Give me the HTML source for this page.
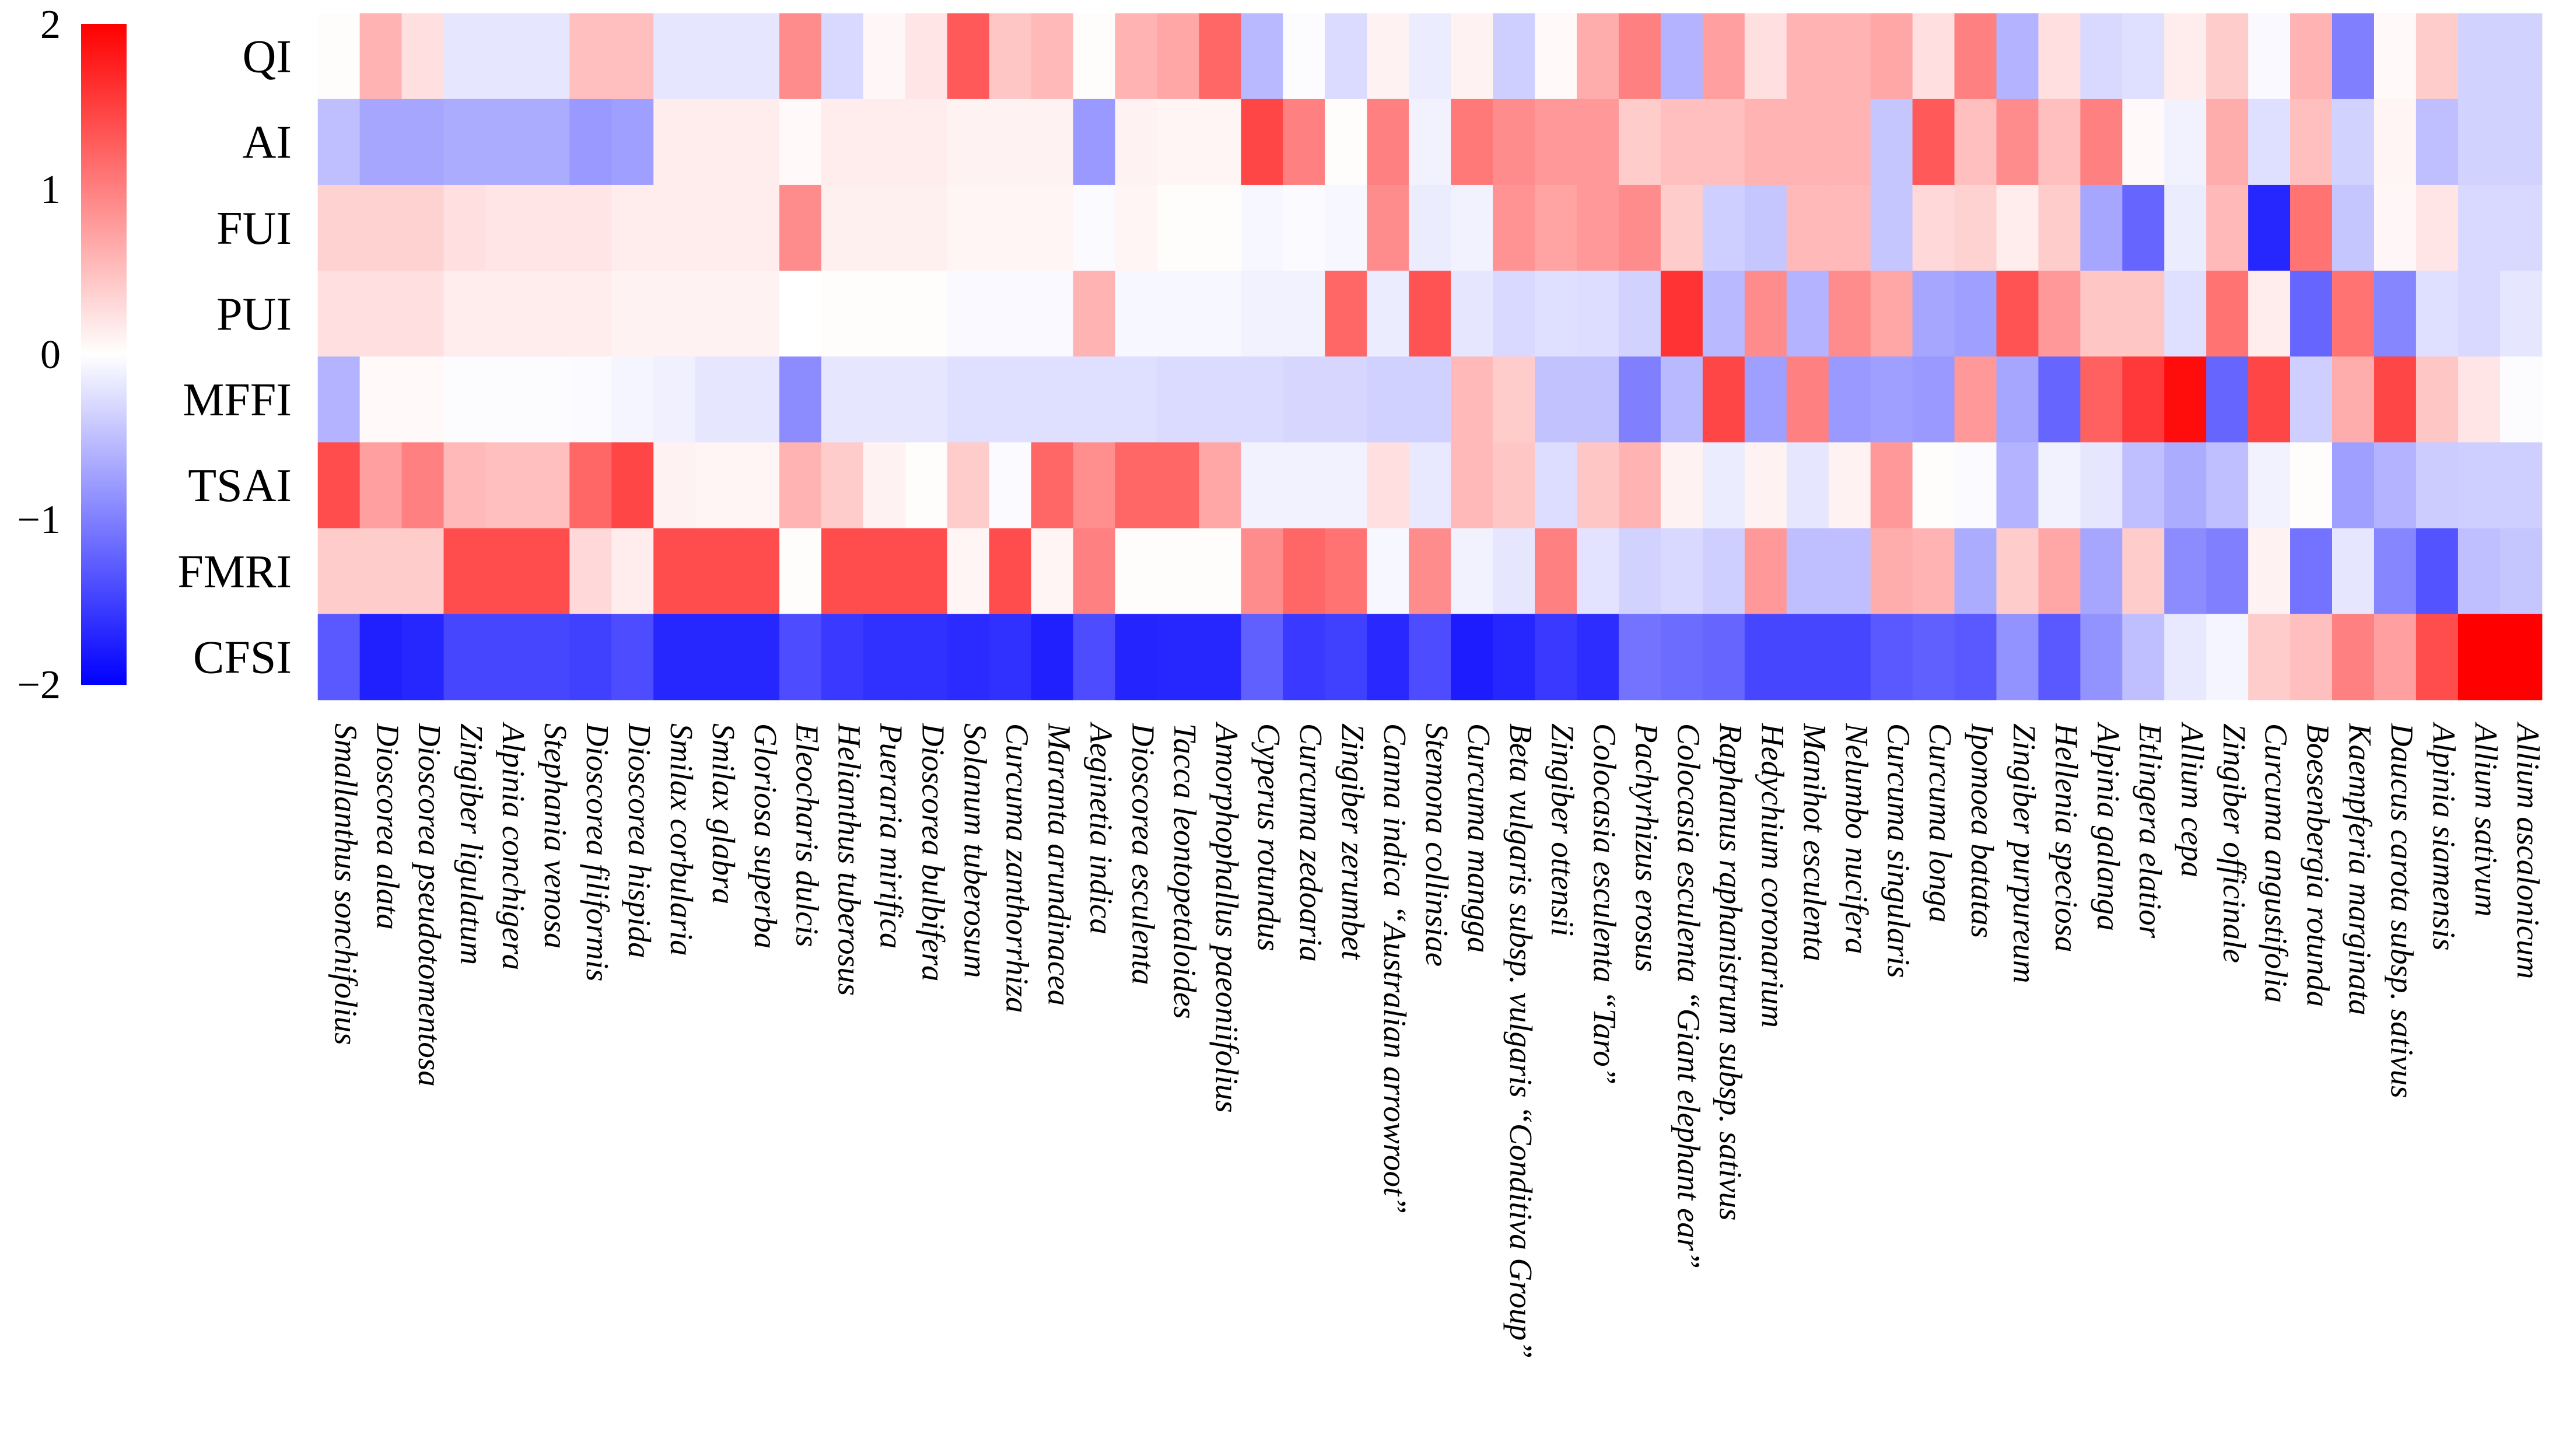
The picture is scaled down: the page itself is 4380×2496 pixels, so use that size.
<!DOCTYPE html>
<html><head><meta charset="utf-8"><style>html,body{margin:0;padding:0;background:#fff}svg{display:block}</style></head>
<body>
<svg id="chart" xmlns="http://www.w3.org/2000/svg" width="4380" height="2496" viewBox="0 0 4380 2496">
<defs>
<linearGradient id="cb" x1="0" y1="1" x2="0" y2="0">
<stop offset="0" stop-color="#0000ff"/><stop offset="0.5" stop-color="#ffffff"/><stop offset="1" stop-color="#ff0000"/>
</linearGradient>
</defs>
<g id="cells"></g>
<g id="rowlabels"></g>
<g id="collabels"></g>
<rect x="139" y="41" width="78" height="1133" fill="url(#cb)"/>
<g id="cbticks"></g>
</svg>
<script>
const rows = ["QI","AI","FUI","PUI","MFFI","TSAI","FMRI","CFSI"];
const species = ["Smallanthus sonchifolius","Dioscorea alata","Dioscorea pseudotomentosa","Zingiber ligulatum","Alpinia conchigera","Stephania venosa","Dioscorea filiformis","Dioscorea hispida","Smilax corbularia","Smilax glabra","Gloriosa superba","Eleocharis dulcis","Helianthus tuberosus","Pueraria mirifica","Dioscorea bulbifera","Solanum tuberosum","Curcuma zanthorrhiza","Maranta arundinacea","Aeginetia indica","Dioscorea esculenta","Tacca leontopetaloides","Amorphophallus paeoniifolius","Cyperus rotundus","Curcuma zedoaria","Zingiber zerumbet","Canna indica \u201cAustralian arrowroot\u201d","Stemona collinsiae","Curcuma mangga","Beta vulgaris subsp. vulgaris \u201cConditiva Group\u201d","Zingiber ottensii","Colocasia esculenta \u201cTaro\u201d","Pachyrhizus erosus","Colocasia esculenta \u201cGiant elephant ear\u201d","Raphanus raphanistrum subsp. sativus","Hedychium coronarium","Manihot esculenta","Nelumbo nucifera","Curcuma singularis","Curcuma longa","Ipomoea batatas","Zingiber purpureum","Hellenia speciosa","Alpinia galanga","Etlingera elatior","Allium cepa","Zingiber officinale","Curcuma angustifolia","Boesenbergia rotunda","Kaempferia marginata","Daucus carota subsp. sativus","Alpinia siamensis","Allium sativum","Allium ascalonicum"];
const valQI = [0.02,0.6,0.25,-0.2,-0.2,-0.2,0.5,0.5,-0.2,-0.2,-0.2,0.9,-0.3,0.06,0.2,1.3,0.45,0.55,0.02,0.6,0.7,1.2,-0.55,-0.02,-0.28,0.1,-0.15,0.1,-0.38,0.05,0.65,1.0,-0.6,0.75,0.25,0.6,0.6,0.7,0.25,1.0,-0.6,0.25,-0.3,-0.25,0.15,0.4,-0.05,0.6,-1.0,0.05,0.4,-0.35,-0.35];
const valAI = [-0.5,-0.7,-0.7,-0.65,-0.65,-0.65,-0.8,-0.75,0.15,0.15,0.15,0.05,0.15,0.15,0.15,0.1,0.1,0.1,-0.8,0.1,0.08,0.08,1.45,1.0,0.02,1.0,-0.1,1.05,0.9,0.8,0.8,0.4,0.5,0.5,0.6,0.6,0.6,-0.45,1.3,0.5,0.9,0.5,1.0,0.05,-0.1,0.65,-0.25,0.5,-0.35,0.08,-0.5,-0.35,-0.35];
const valFUI = [0.35,0.35,0.35,0.25,0.2,0.2,0.2,0.15,0.15,0.15,0.15,0.9,0.12,0.12,0.12,0.08,0.08,0.08,-0.03,0.08,0.02,0.02,-0.06,-0.03,-0.06,0.9,-0.15,-0.1,0.85,0.72,0.8,0.9,0.4,-0.38,-0.45,0.55,0.55,-0.45,0.3,0.35,0.15,0.4,-0.7,-1.2,-0.15,0.55,-1.7,1.1,-0.45,0.06,0.2,-0.3,-0.3];
const valPUI = [0.25,0.25,0.25,0.15,0.15,0.15,0.15,0.1,0.1,0.1,0.1,0.0,0.02,0.02,0.02,-0.05,-0.05,-0.05,0.6,-0.06,-0.06,-0.06,-0.1,-0.1,1.2,-0.15,1.35,-0.2,-0.3,-0.25,-0.27,-0.35,1.6,-0.55,0.9,-0.6,0.9,0.7,-0.7,-0.75,1.35,0.8,0.45,0.45,-0.25,1.1,0.15,-1.2,1.1,-0.95,-0.25,-0.3,-0.2];
const valMFFI = [-0.6,0.05,0.05,-0.02,-0.02,-0.02,-0.03,-0.08,-0.12,-0.2,-0.2,-0.9,-0.2,-0.2,-0.2,-0.25,-0.25,-0.25,-0.25,-0.25,-0.28,-0.28,-0.28,-0.32,-0.32,-0.36,-0.36,0.55,0.4,-0.48,-0.48,-1.0,-0.55,1.45,-0.75,1.0,-0.8,-0.75,-0.8,0.8,-0.7,-1.2,1.25,1.55,1.9,-1.2,1.45,-0.38,0.65,1.45,0.45,0.2,-0.02];
const valTSAI = [1.4,0.75,1.0,0.55,0.5,0.5,1.2,1.45,0.1,0.08,0.08,0.6,0.4,0.1,0.02,0.4,-0.03,1.2,0.88,1.2,1.2,0.7,-0.1,-0.1,-0.1,0.25,-0.18,0.55,0.45,-0.27,0.45,0.6,0.1,-0.15,0.1,-0.2,0.1,0.8,0.02,-0.03,-0.6,-0.1,-0.2,-0.5,-0.65,-0.5,-0.1,0.02,-0.75,-0.6,-0.4,-0.38,-0.38];
const valFMRI = [0.4,0.4,0.4,1.4,1.4,1.4,0.3,0.15,1.4,1.4,1.4,0.02,1.4,1.4,1.4,0.08,1.4,0.08,1.0,0.02,0.02,0.02,0.9,1.2,1.1,-0.06,0.9,-0.1,-0.2,1.0,-0.22,-0.35,-0.3,-0.38,0.8,-0.5,-0.5,0.65,0.6,-0.65,0.4,0.7,-0.7,0.4,-0.9,-1.0,0.1,-1.1,-0.2,-0.95,-1.35,-0.5,-0.45];
const valCFSI = [-1.3,-1.75,-1.7,-1.45,-1.45,-1.45,-1.5,-1.4,-1.7,-1.7,-1.7,-1.4,-1.55,-1.62,-1.62,-1.66,-1.62,-1.75,-1.4,-1.72,-1.7,-1.7,-1.25,-1.55,-1.5,-1.68,-1.4,-1.78,-1.7,-1.55,-1.65,-1.1,-1.15,-1.2,-1.45,-1.45,-1.45,-1.3,-1.25,-1.3,-0.85,-1.3,-0.85,-0.5,-0.18,-0.08,0.4,0.5,1.0,0.75,1.4,2.0,2.0];
const tickValues = [2,1,0,-1,-2];
const tickLabels = ["2","1","0","\u22121","\u22122"];

const series = [valQI,valAI,valFUI,valPUI,valMFFI,valTSAI,valFMRI,valCFSI];
const NS = "http://www.w3.org/2000/svg";
const X0 = 545, X1 = 4358, Y0 = 23, Y1 = 1200;
const cw = (X1 - X0) / species.length, rh = (Y1 - Y0) / rows.length;
const xScale = i => X0 + i * cw;
const yScale = j => Y0 + j * rh;
const cbScale = v => 607 - v * 283;
function color(v) {
  v = Math.max(-2, Math.min(2, v));
  const t = (v + 2) / 4;
  let r, g, b;
  if (t < 0.5) { r = g = Math.round(2 * t * 255); b = 255; }
  else { r = 255; g = b = Math.round((2 - 2 * t) * 255); }
  return `rgb(${r},${g},${b})`;
}
const cells = document.getElementById('cells');
series.forEach((arr, j) => {
  arr.forEach((v, i) => {
    const r = document.createElementNS(NS, 'rect');
    r.setAttribute('x', xScale(i) - 0.3);
    r.setAttribute('y', yScale(j) - 0.3);
    r.setAttribute('width', cw + 0.6);
    r.setAttribute('height', rh + 0.6);
    r.setAttribute('fill', color(v));
    
    
    cells.appendChild(r);
  });
});
const rl = document.getElementById('rowlabels');
rows.forEach((name, j) => {
  const t = document.createElementNS(NS, 'text');
  t.setAttribute('x', 500);
  t.setAttribute('y', yScale(j) + rh / 2 + 27);
  t.setAttribute('text-anchor', 'end');
  t.setAttribute('font-family', '"Liberation Serif", serif');
  t.setAttribute('font-size', '80');
  t.textContent = name;
  
  
  rl.appendChild(t);
});
const cl = document.getElementById('collabels');
species.forEach((name, i) => {
  const cx = xScale(i) + cw / 2 + 6, cy = 1240;
  const t = document.createElementNS(NS, 'text');
  t.setAttribute('x', cx);
  t.setAttribute('y', cy);
  t.setAttribute('transform', `rotate(90 ${cx} ${cy})`);
  t.setAttribute('dominant-baseline', 'middle');
  t.setAttribute('font-family', '"Liberation Serif", serif');
  t.setAttribute('font-style', 'italic');
  t.setAttribute('font-size', '55');
  t.textContent = name;
  
  
  cl.appendChild(t);
});
const cbt = document.getElementById('cbticks');
tickValues.forEach((v, k) => {
  const t = document.createElementNS(NS, 'text');
  t.setAttribute('x', 104);
  t.setAttribute('y', cbScale(v) + 24);
  t.setAttribute('text-anchor', 'end');
  t.setAttribute('font-family', '"Liberation Serif", serif');
  t.setAttribute('font-size', '70');
  t.textContent = tickLabels[k];
  
  
  cbt.appendChild(t);
});
</script>
</body></html>
